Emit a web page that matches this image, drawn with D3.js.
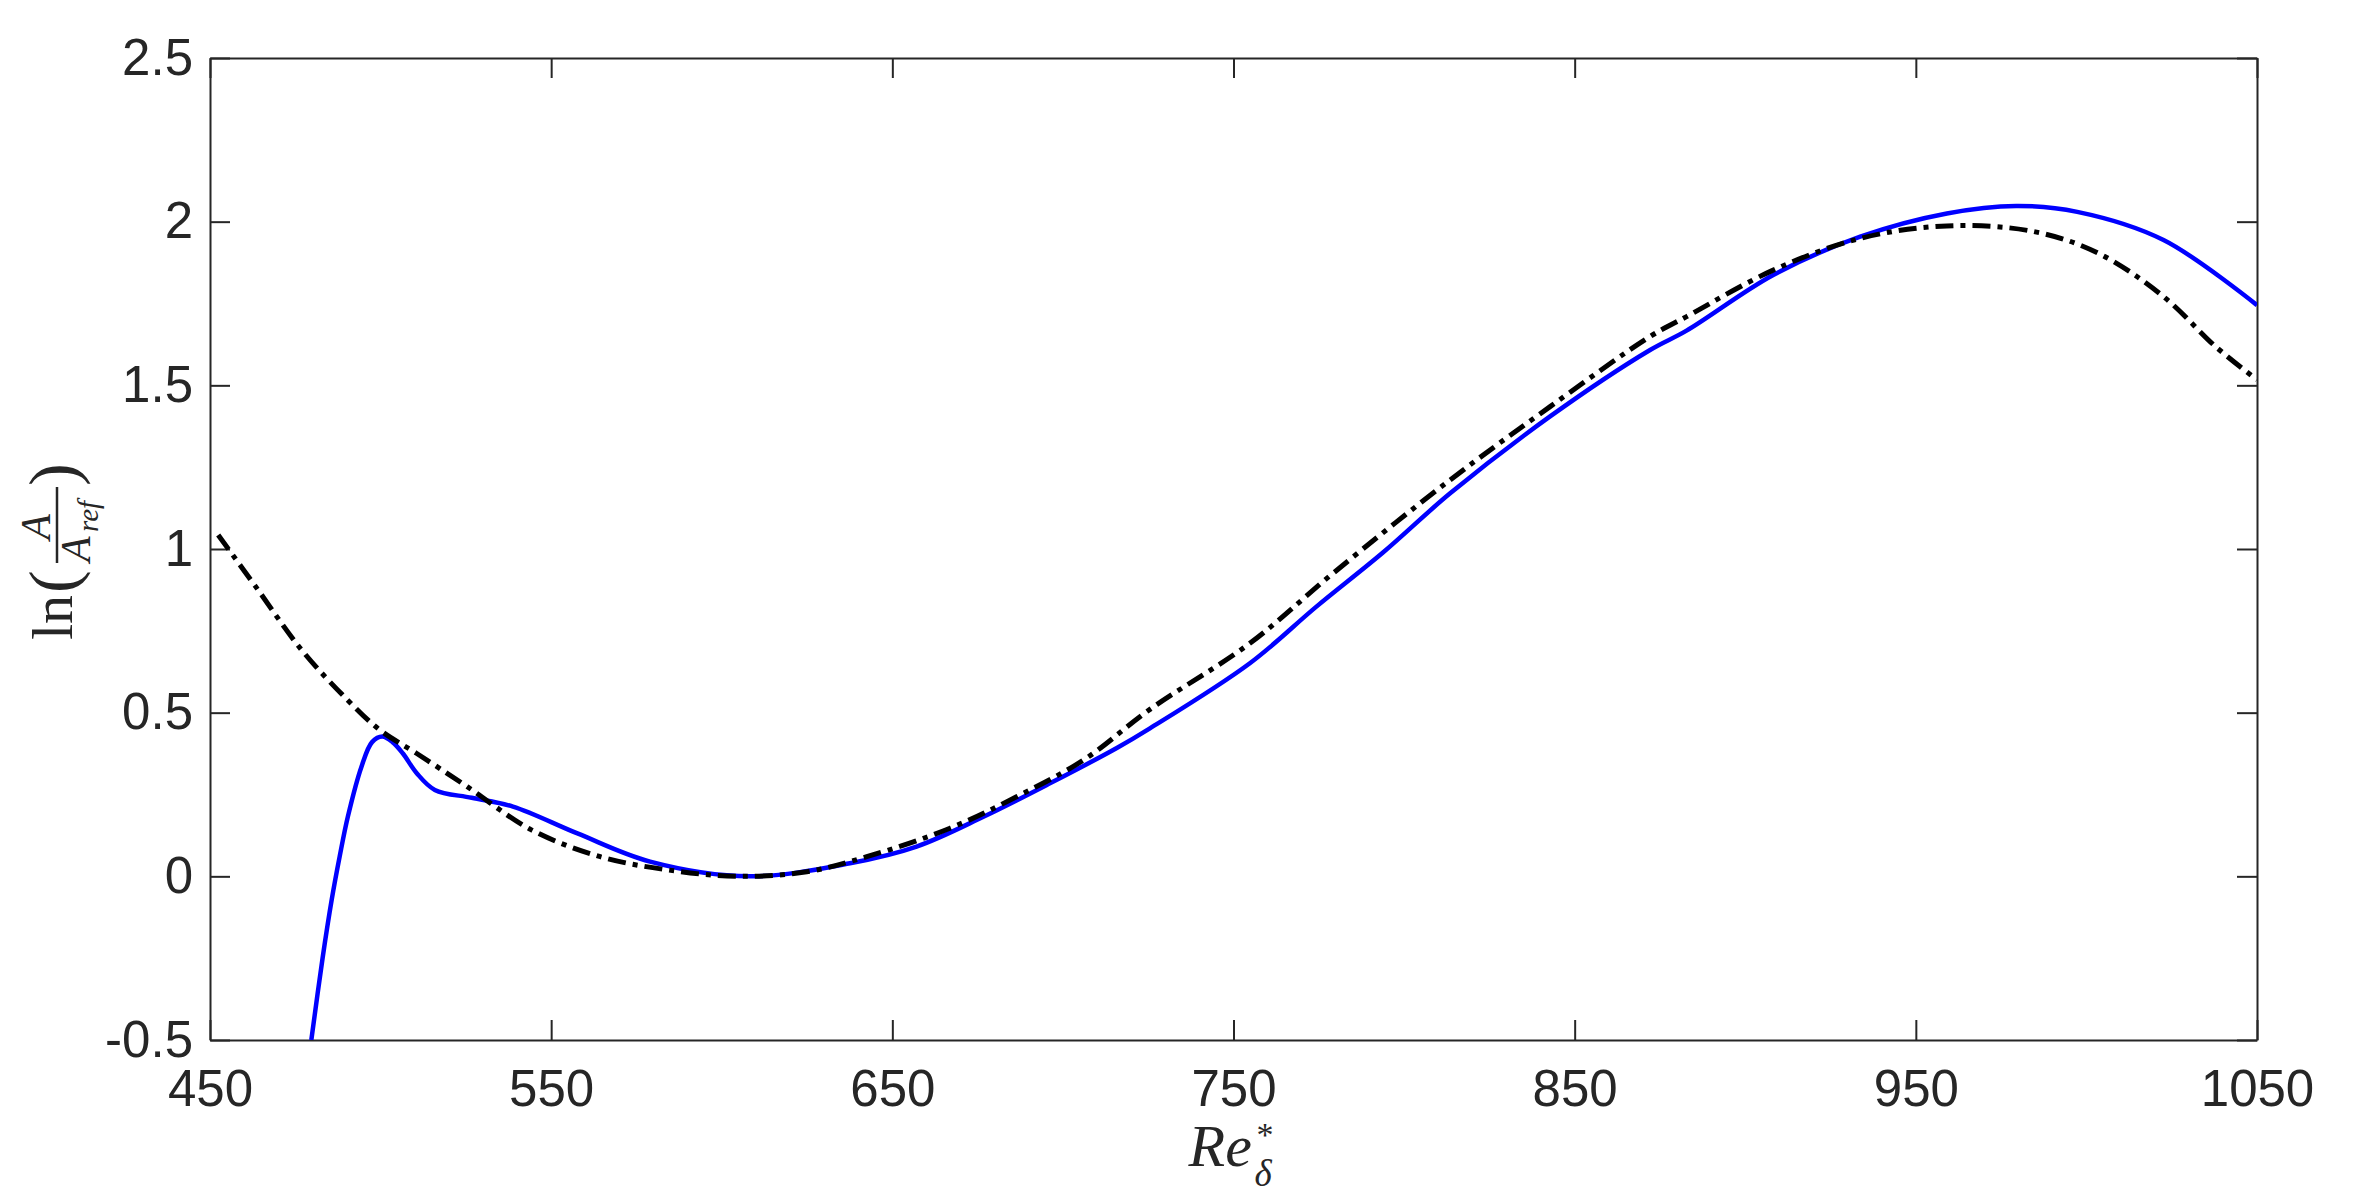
<!DOCTYPE html>
<html>
<head>
<meta charset="utf-8">
<script src="https://cdn.jsdelivr.net/npm/d3@7"></script>
<style>
  body { margin: 0; background: #fff; }
  text { fill: #262626; }
</style>
</head>
<body>
<div id="chart"></div>
<script>
// reference curve (dash-dot)
var reBlack = [452.4, 463.4, 476.9, 490.3, 499.8, 510.5, 525.4, 544.2, 564.4, 584.6, 604.8, 624.9, 642.5, 666.9, 686.4, 706, 725.5, 754.8, 779.2, 813.5, 842.8, 872.1, 882.8, 908.2, 933.7, 959.1, 984.5, 1003.6, 1022.6, 1037.9, 1050];
var ampBlack = [1.043, 0.885, 0.691, 0.539, 0.447, 0.376, 0.274, 0.142, 0.06, 0.019, 0.0, 0.014, 0.06, 0.147, 0.243, 0.355, 0.51, 0.712, 0.926, 1.211, 1.435, 1.649, 1.71, 1.852, 1.949, 1.987, 1.97, 1.903, 1.771, 1.618, 1.517];

// computed curve (solid blue)
var reBlue = [479.7, 483, 485.7, 488, 490.4, 494.4, 497.5, 500.5, 503.5, 506.5, 510.6, 515.9, 526.7, 538.8, 557.7, 579, 608.3, 637.6, 657.1, 676.7, 696.2, 715.8, 725.5, 754.8, 774.3, 793.9, 813.5, 842.8, 872.1, 882.8, 908.2, 933.7, 959.1, 979.4, 997.3, 1022.6, 1050];
var ampBlue = [-0.5, -0.25, -0.07, 0.06, 0.182, 0.335, 0.41, 0.427, 0.41, 0.376, 0.315, 0.264, 0.24, 0.213, 0.131, 0.045, 0.0, 0.04, 0.091, 0.182, 0.284, 0.392, 0.452, 0.651, 0.824, 0.99, 1.17, 1.405, 1.608, 1.667, 1.837, 1.954, 2.025, 2.048, 2.03, 1.944, 1.745];

var xTicks = [450, 550, 650, 750, 850, 950, 1050];
var yTicks = [-0.5, 0, 0.5, 1, 1.5, 2, 2.5];

var margin = {top: 58, right: 102, bottom: 155, left: 210},
    width = 2359 - margin.left - margin.right,
    height = 1195 - margin.top - margin.bottom;

var svg = d3.select("#chart")
  .append("svg")
    .attr("width", 2359)
    .attr("height", 1195)
  .append("g")
    .attr("transform", "translate(" + margin.left + "," + margin.top + ")");

var x = d3.scaleLinear().domain([450, 1050]).range([0, width]);
var y = d3.scaleLinear().domain([-0.5, 2.5]).range([height, 0]);

var tickLen = 20, axisCol = "#262626";

function styleAxis(g) {
  g.selectAll("path").attr("stroke", axisCol).attr("stroke-width", 2);
  g.selectAll("line").attr("stroke", axisCol).attr("stroke-width", 2);
  g.selectAll("text")
    .style("font-family", "'Liberation Sans', Arial, sans-serif")
    .style("font-size", "51px")
    .attr("fill", axisCol);
}

// bottom + top
svg.append("g")
  .attr("transform", "translate(0," + height + ")")
  .call(d3.axisBottom(x).tickValues(xTicks).tickSize(-tickLen).tickPadding(30).tickSizeOuter(0)
    .tickFormat(function(d) { return String(d); }))
  .call(styleAxis);
svg.append("g")
  .call(d3.axisTop(x).tickValues(xTicks).tickSize(-tickLen).tickFormat("").tickSizeOuter(0))
  .call(styleAxis);

// left + right
svg.append("g")
  .call(d3.axisLeft(y).tickValues(yTicks).tickSize(-tickLen).tickPadding(17).tickSizeOuter(0)
    .tickFormat(function(d) { return String(d); }))
  .call(styleAxis);
svg.append("g")
  .attr("transform", "translate(" + width + ",0)")
  .call(d3.axisRight(y).tickValues(yTicks).tickSize(-tickLen).tickFormat("").tickSizeOuter(0))
  .call(styleAxis);

// clip
svg.append("clipPath").attr("id", "clip")
  .append("rect").attr("width", width).attr("height", height);

var line = d3.line()
  .x(function(d) { return x(d[0]); })
  .y(function(d) { return y(d[1]); })
  .curve(d3.curveCatmullRom.alpha(0.5));

svg.append("path")
  .datum(d3.zip(reBlue, ampBlue))
  .attr("clip-path", "url(#clip)")
  .attr("d", line)
  .attr("fill", "none")
  .attr("stroke", "#0000ff")
  .attr("stroke-width", 4.5);

svg.append("path")
  .datum(d3.zip(reBlack, ampBlack))
  .attr("clip-path", "url(#clip)")
  .attr("d", line)
  .attr("fill", "none")
  .attr("stroke", "#000")
  .attr("stroke-width", 5)
  .attr("stroke-dasharray", "18,7,5,7");

// x label: Re*_delta
var serif = "'Liberation Serif', 'Times New Roman', serif";
var cx = width / 2;
var xl = svg.append("g").attr("transform", "translate(" + (cx - 45) + "," + (height + 126) + ")");
xl.append("text").text("Re")
  .style("font-family", serif).style("font-style", "italic").style("font-size", "60px")
  .attr("x", 0).attr("y", 0);
xl.append("text").text("*")
  .style("font-family", serif).style("font-size", "34px")
  .attr("x", 68).attr("y", -20);
xl.append("text").text("δ")
  .style("font-family", serif).style("font-style", "italic").style("font-size", "37px")
  .attr("x", 66).attr("y", 20);

// y label: ln(A / A_ref), rotated
var yl = svg.append("g").attr("transform", "translate(" + (72 - margin.left) + "," + (640 - margin.top) + ") rotate(-90)");
yl.append("text").text("ln")
  .style("font-family", serif).style("font-size", "58px")
  .attr("x", 0).attr("y", 0);
yl.append("text").text("(")
  .style("font-family", serif).style("font-size", "68px")
  .attr("x", 47).attr("y", 4);
yl.append("line")
  .attr("x1", 77).attr("x2", 153).attr("y1", -15).attr("y2", -15)
  .attr("stroke", axisCol).attr("stroke-width", 2.5);
yl.append("text").text("A")
  .style("font-family", serif).style("font-style", "italic").style("font-size", "42px")
  .attr("text-anchor", "middle")
  .attr("x", 113).attr("y", -22);
yl.append("text").text("A")
  .style("font-family", serif).style("font-style", "italic").style("font-size", "42px")
  .attr("x", 78).attr("y", 18);
yl.append("text").text("ref")
  .style("font-family", serif).style("font-style", "italic").style("font-size", "29px")
  .attr("x", 108).attr("y", 26);
yl.append("text").text(")")
  .style("font-family", serif).style("font-size", "68px")
  .attr("x", 154).attr("y", 4);
</script>
</body>
</html>
